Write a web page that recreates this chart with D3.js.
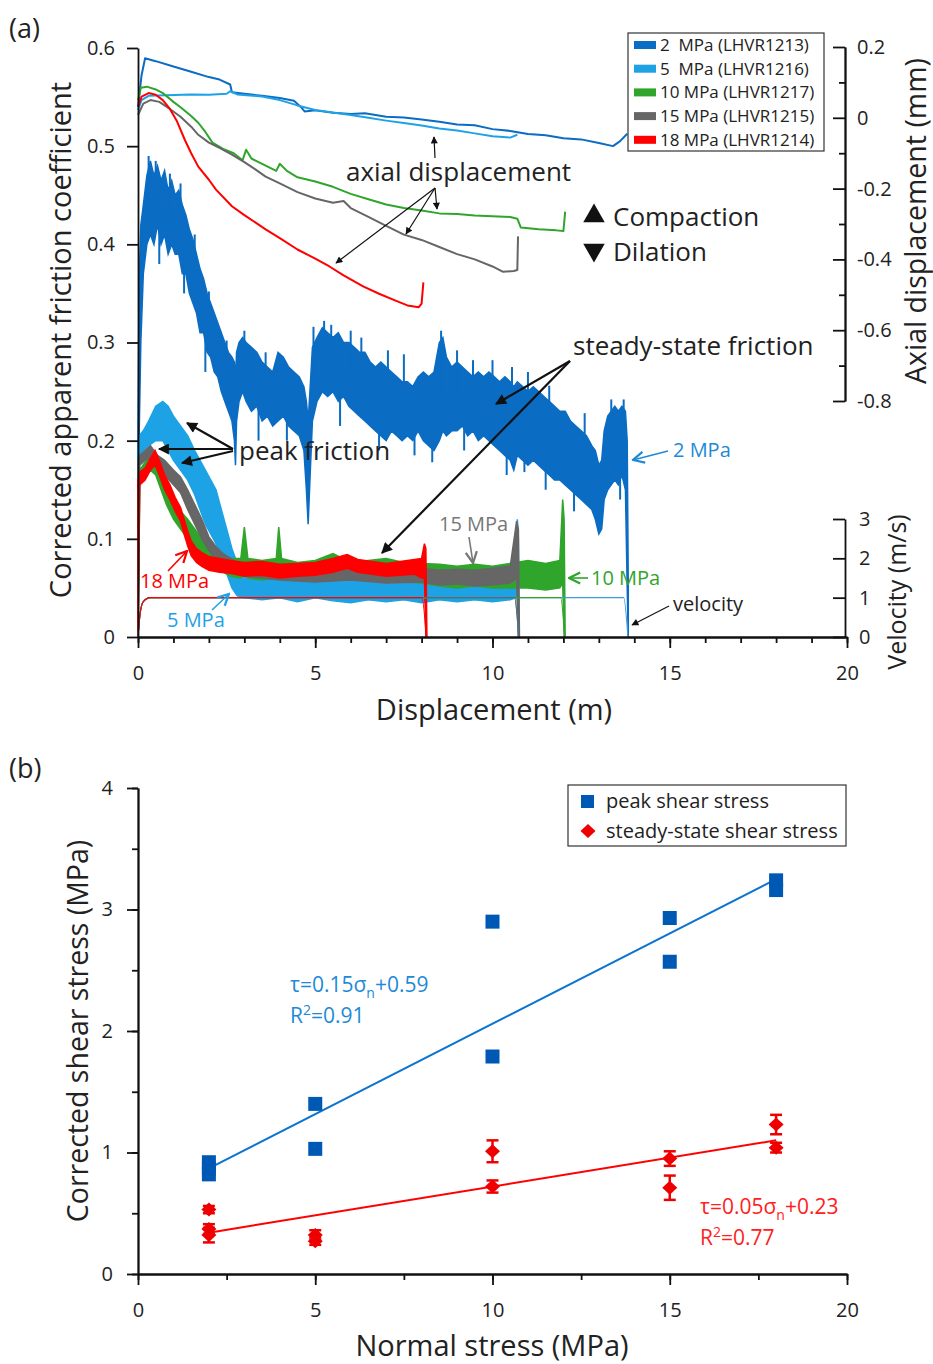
<!DOCTYPE html>
<html>
<head>
<meta charset="utf-8">
<script src="https://cdn.jsdelivr.net/npm/d3@7"></script>
<style>
  body { margin: 0; background: #fff; }
  svg text { font-family: 'Open Sans', sans-serif; fill: #222; }
  .axis path, .axis line { stroke: #111; stroke-width: 1.8; }
  .axis text { font-size: 20px; fill: #222; font-family: 'Open Sans', sans-serif; }
</style>
</head>
<body>
<svg id="chart" width="933" height="1364"></svg>
<script>
// ---------- panel (a) data ----------
const expLabels = ['2  MPa (LHVR1213)', '5  MPa (LHVR1216)', '10 MPa (LHVR1217)', '15 MPa (LHVR1215)', '18 MPa (LHVR1214)'];
const expColors = ['#0b6cc3', '#1ea2e6', '#30a52c', '#666666', '#ff0000'];
const expEnd = [13.82, 10.74, 12.04, 10.74, 8.13];

const dispTicks = [0, 5, 10, 15, 20];
const fricTicks = [0, 0.1, 0.2, 0.3, 0.4, 0.5, 0.6];
const axialTicks = [0.2, 0, -0.2, -0.4, -0.6, -0.8];
const velTicks = [0, 1, 2, 3];

// friction bands: [displacement, low, high]
const fric2 = [[0,0,0.2],[0.03,0.2,0.36],[0.08,0.3,0.42],[0.15,0.37,0.44],[0.25,0.4,0.47],[0.35,0.41,0.485],[0.45,0.4,0.47],[0.55,0.42,0.48],[0.65,0.4,0.465],[0.75,0.41,0.475],[0.85,0.39,0.455],[0.95,0.4,0.465],[1.05,0.39,0.45],[1.15,0.39,0.455],[1.25,0.37,0.44],[1.35,0.37,0.43],[1.45,0.35,0.415],[1.55,0.34,0.405],[1.65,0.33,0.39],[1.75,0.31,0.375],[1.85,0.31,0.365],[1.95,0.29,0.35],[2.05,0.285,0.34],[2.15,0.27,0.33],[2.25,0.265,0.32],[2.35,0.25,0.31],[2.45,0.24,0.3],[2.55,0.23,0.29],[2.65,0.22,0.285],[2.72,0.2,0.28],[2.75,0.175,0.26],[2.78,0.22,0.29],[2.85,0.24,0.3],[2.95,0.25,0.305],[3.05,0.24,0.3],[3.2,0.23,0.295],[3.35,0.235,0.29],[3.5,0.22,0.28],[3.65,0.225,0.275],[3.8,0.215,0.27],[3.95,0.22,0.29],[4.1,0.225,0.285],[4.25,0.215,0.275],[4.4,0.21,0.27],[4.55,0.205,0.265],[4.68,0.19,0.255],[4.75,0.15,0.24],[4.8,0.115,0.22],[4.85,0.16,0.25],[4.92,0.22,0.295],[5.05,0.24,0.305],[5.2,0.25,0.315],[5.35,0.245,0.31],[5.5,0.25,0.305],[5.65,0.24,0.31],[5.8,0.245,0.3],[5.95,0.235,0.3],[6.1,0.23,0.295],[6.25,0.225,0.29],[6.4,0.22,0.29],[6.55,0.215,0.28],[6.7,0.21,0.275],[6.85,0.205,0.28],[7.0,0.2,0.275],[7.15,0.21,0.27],[7.3,0.205,0.265],[7.45,0.2,0.26],[7.6,0.205,0.26],[7.75,0.2,0.255],[7.9,0.21,0.265],[8.05,0.2,0.27],[8.2,0.195,0.265],[8.35,0.19,0.27],[8.5,0.2,0.3],[8.6,0.21,0.305],[8.7,0.205,0.285],[8.85,0.21,0.275],[9.0,0.21,0.28],[9.15,0.215,0.275],[9.3,0.205,0.27],[9.45,0.21,0.265],[9.6,0.2,0.27],[9.75,0.205,0.265],[9.9,0.2,0.27],[10.05,0.195,0.265],[10.2,0.19,0.26],[10.35,0.185,0.265],[10.5,0.18,0.26],[10.6,0.17,0.255],[10.7,0.185,0.26],[10.85,0.18,0.255],[11.0,0.175,0.25],[11.15,0.18,0.255],[11.3,0.175,0.25],[11.45,0.17,0.245],[11.6,0.165,0.24],[11.75,0.16,0.235],[11.9,0.16,0.23],[12.05,0.155,0.23],[12.2,0.15,0.22],[12.35,0.145,0.215],[12.5,0.14,0.21],[12.65,0.135,0.205],[12.8,0.13,0.195],[12.9,0.12,0.19],[13.0,0.105,0.175],[13.08,0.11,0.18],[13.15,0.14,0.21],[13.25,0.15,0.225],[13.35,0.155,0.23],[13.45,0.16,0.235],[13.55,0.155,0.23],[13.65,0.165,0.235],[13.75,0.15,0.23],[13.8,0.05,0.2],[13.83,0,0.05]];
// single noise spikes on the 2 MPa record: [displacement, from, to]
const spikes2 = [[0.3,0.44,0.49],[0.5,0.44,0.485],[0.9,0.43,0.472],[1.2,0.42,0.462],[1.6,0.37,0.41],[2.0,0.31,0.352],[2.5,0.27,0.302],[3.0,0.27,0.312],[3.6,0.25,0.29],[4.95,0.26,0.316],[5.25,0.28,0.322],[5.45,0.28,0.318],[6.0,0.27,0.312],[6.3,0.26,0.305],[7.05,0.25,0.292],[7.5,0.23,0.288],[8.55,0.25,0.312],[9.0,0.25,0.292],[9.45,0.24,0.282],[10.0,0.24,0.282],[10.55,0.23,0.275],[11.0,0.22,0.27],[11.6,0.21,0.256],[12.6,0.18,0.228],[13.35,0.2,0.242],[13.7,0.2,0.242],[0.6,0.43,0.38],[1.3,0.4,0.35],[1.9,0.32,0.27],[3.4,0.25,0.2],[4.2,0.24,0.2],[5.7,0.27,0.215],[6.8,0.24,0.19],[7.8,0.22,0.185],[8.3,0.22,0.178],[9.2,0.23,0.19],[10.4,0.2,0.165],[10.9,0.2,0.168],[11.5,0.19,0.15],[12.3,0.17,0.128],[13.6,0.18,0.14]];
const fric5 = [[0,0,0.19],[0.03,0.18,0.205],[0.15,0.19,0.21],[0.3,0.195,0.22],[0.5,0.2,0.235],[0.7,0.2,0.24],[0.85,0.19,0.235],[1.0,0.18,0.225],[1.2,0.17,0.215],[1.4,0.16,0.205],[1.6,0.145,0.19],[1.75,0.13,0.18],[1.9,0.115,0.17],[2.05,0.105,0.16],[2.2,0.095,0.15],[2.35,0.08,0.13],[2.5,0.065,0.11],[2.65,0.05,0.09],[2.8,0.042,0.075],[3.0,0.04,0.065],[3.5,0.038,0.062],[4.0,0.04,0.063],[4.5,0.036,0.06],[5.0,0.04,0.062],[5.5,0.037,0.06],[6.0,0.035,0.062],[6.5,0.038,0.06],[7.0,0.036,0.061],[7.5,0.038,0.06],[8.0,0.035,0.06],[8.5,0.038,0.062],[9.0,0.036,0.06],[9.5,0.038,0.061],[10.0,0.036,0.06],[10.5,0.038,0.062],[10.65,0.04,0.07],[10.7,0.04,0.12],[10.73,0,0.1],[10.75,0,0]];
const fric10 = [[0,0,0.16],[0.05,0.155,0.17],[0.2,0.165,0.178],[0.35,0.17,0.185],[0.5,0.165,0.18],[0.65,0.15,0.17],[0.8,0.135,0.155],[1.0,0.12,0.14],[1.2,0.11,0.128],[1.4,0.1,0.12],[1.6,0.092,0.11],[1.8,0.085,0.1],[2.0,0.078,0.095],[2.3,0.068,0.085],[2.6,0.062,0.08],[2.9,0.06,0.08],[3.0,0.065,0.112],[3.1,0.06,0.08],[3.5,0.058,0.078],[3.9,0.06,0.08],[3.97,0.065,0.112],[4.05,0.06,0.08],[4.5,0.058,0.076],[5.0,0.06,0.078],[5.5,0.062,0.085],[6.0,0.058,0.076],[6.5,0.06,0.078],[7.0,0.058,0.08],[7.5,0.056,0.076],[8.0,0.055,0.075],[8.5,0.052,0.074],[9.0,0.05,0.072],[9.5,0.052,0.074],[10.0,0.05,0.072],[10.5,0.05,0.075],[11.0,0.05,0.078],[11.5,0.048,0.075],[11.9,0.05,0.078],[11.98,0.055,0.14],[12.02,0,0.12],[12.05,0,0]];
const fric15 = [[0,0,0.18],[0.05,0.175,0.185],[0.2,0.18,0.19],[0.35,0.182,0.195],[0.55,0.172,0.185],[0.75,0.165,0.18],[1.0,0.155,0.17],[1.2,0.147,0.163],[1.4,0.13,0.15],[1.6,0.115,0.135],[1.8,0.1,0.12],[2.0,0.088,0.102],[2.2,0.078,0.092],[2.4,0.072,0.085],[2.7,0.066,0.078],[3.0,0.062,0.075],[4.0,0.058,0.072],[5.0,0.056,0.07],[6.0,0.058,0.072],[7.0,0.055,0.07],[8.0,0.056,0.07],[8.5,0.053,0.068],[9.0,0.054,0.069],[9.5,0.052,0.068],[10.0,0.053,0.07],[10.5,0.055,0.072],[10.68,0.06,0.118],[10.73,0,0.11],[10.76,0,0]];
const fric18 = [[0,0,0.16],[0.05,0.155,0.168],[0.2,0.16,0.172],[0.35,0.17,0.182],[0.48,0.175,0.19],[0.6,0.165,0.18],[0.75,0.15,0.165],[0.9,0.14,0.155],[1.05,0.128,0.142],[1.2,0.118,0.132],[1.3,0.105,0.12],[1.4,0.093,0.108],[1.5,0.083,0.098],[1.65,0.076,0.09],[1.8,0.072,0.086],[2.0,0.068,0.082],[2.3,0.066,0.08],[2.6,0.065,0.078],[3.0,0.062,0.076],[3.5,0.063,0.077],[4.0,0.06,0.074],[4.5,0.062,0.075],[5.0,0.063,0.076],[5.5,0.066,0.08],[5.9,0.07,0.084],[6.2,0.066,0.079],[6.6,0.064,0.077],[7.0,0.062,0.075],[7.4,0.063,0.077],[7.8,0.064,0.079],[8.0,0.06,0.08],[8.08,0.06,0.095],[8.12,0,0.09],[8.15,0,0]];
const fricBands = [fric2, fric5, fric10, fric15, fric18];

// axial displacement (mm): [displacement, value]
const axial2 = [[0,0.03],[0.1,0.12],[0.2,0.168],[0.5,0.16],[1,0.145],[1.5,0.13],[2,0.115],[2.3,0.108],[2.6,0.094],[2.65,0.072],[3,0.068],[3.5,0.062],[4,0.056],[4.4,0.048],[4.6,0.03],[4.7,0.018],[5,0.021],[5.5,0.014],[6,0.011],[6.4,0.013],[7,0.003],[7.5,0.001],[8,-0.005],[8.5,-0.011],[9,-0.019],[9.5,-0.021],[10,-0.032],[10.5,-0.037],[11,-0.046],[11.5,-0.049],[12,-0.058],[12.5,-0.061],[13,-0.071],[13.4,-0.08],[13.6,-0.066],[13.8,-0.045]];
const axial5 = [[0,0.022],[0.1,0.05],[0.3,0.062],[0.8,0.064],[1.5,0.066],[2,0.065],[2.5,0.068],[2.6,0.075],[2.8,0.066],[3.5,0.06],[4,0.05],[4.5,0.035],[5,0.022],[5.5,0.015],[6,0.008],[6.5,0],[7,-0.008],[7.5,-0.015],[8,-0.022],[8.5,-0.03],[9,-0.036],[9.5,-0.044],[10,-0.052],[10.5,-0.056],[10.7,-0.048]];
const axial10 = [[0,0.05],[0.08,0.085],[0.25,0.088],[0.5,0.08],[0.7,0.07],[1,0.045],[1.2,0.03],[1.5,0.005],[1.7,-0.014],[1.9,-0.04],[2.1,-0.07],[2.4,-0.088],[2.7,-0.1],[2.95,-0.12],[3.05,-0.09],[3.2,-0.115],[3.5,-0.13],[3.9,-0.15],[4.0,-0.13],[4.2,-0.15],[4.5,-0.168],[5,-0.18],[5.5,-0.195],[6,-0.215],[6.5,-0.23],[7,-0.245],[7.5,-0.255],[8,-0.262],[8.5,-0.27],[9,-0.272],[9.5,-0.276],[10,-0.278],[10.5,-0.28],[10.7,-0.285],[10.8,-0.31],[11.3,-0.315],[11.8,-0.318],[12,-0.32],[12.05,-0.265]];
const axial15 = [[0,0.008],[0.15,0.04],[0.35,0.05],[0.6,0.045],[0.9,0.025],[1.2,0.003],[1.5,-0.025],[1.7,-0.048],[2,-0.07],[2.3,-0.085],[2.65,-0.104],[3,-0.125],[3.3,-0.145],[3.6,-0.166],[4,-0.185],[4.5,-0.21],[5,-0.228],[5.5,-0.24],[5.8,-0.235],[6,-0.255],[6.5,-0.28],[7,-0.305],[7.5,-0.33],[8,-0.345],[8.5,-0.365],[9,-0.385],[9.5,-0.4],[10,-0.42],[10.3,-0.435],[10.6,-0.433],[10.7,-0.43],[10.72,-0.335]];
const axial18 = [[0,0.03],[0.1,0.06],[0.3,0.07],[0.5,0.065],[0.7,0.05],[0.9,0.025],[1.1,-0.01],[1.32,-0.062],[1.5,-0.1],[1.7,-0.138],[2,-0.175],[2.2,-0.203],[2.65,-0.25],[3,-0.275],[3.6,-0.315],[4,-0.34],[4.5,-0.372],[5,-0.398],[5.4,-0.42],[5.8,-0.445],[6.35,-0.476],[6.8,-0.497],[7.3,-0.518],[7.6,-0.53],[7.92,-0.535],[8.0,-0.525],[8.05,-0.465]];
const axialCurves = [axial2, axial5, axial10, axial15, axial18];

// ---------- panel (b) data ----------
const stressTicks = [0, 5, 10, 15, 20];
const shearTicks = [0, 1, 2, 3, 4];
const peakSigma = [2, 2, 2, 5, 5, 10, 10, 15, 15, 18, 18];
const peakTau = [0.92, 0.87, 0.82, 1.40, 1.03, 2.90, 1.79, 2.93, 2.57, 3.24, 3.16];
const steadySigma = [2, 2, 2, 5, 5, 10, 10, 15, 15, 18, 18];
const steadyTau = [0.53, 0.37, 0.32, 0.32, 0.27, 1.01, 0.72, 0.95, 0.71, 1.23, 1.04];
const steadyErr = [0.03, 0.04, 0.06, 0.04, 0.03, 0.09, 0.05, 0.06, 0.10, 0.08, 0.04];
const fitPeak = [[2, 0.87], [18, 3.25]];
const fitSteady = [[2, 0.34], [18, 1.10]];

const svg = d3.select('#chart');
const oneDec = d => d === 0 ? '0' : d.toFixed(1);

// arrow markers
const defs = svg.append('defs');
function filledHead(id, color, w, h) {
  defs.append('marker').attr('id', id)
    .attr('viewBox', '0 0 10 10').attr('refX', 9).attr('refY', 5)
    .attr('markerWidth', w).attr('markerHeight', h).attr('markerUnits', 'userSpaceOnUse')
    .attr('orient', 'auto')
    .append('path').attr('d', 'M0,0 L10,5 L0,10 z').attr('fill', color);
}
function openHead(id, color) {
  defs.append('marker').attr('id', id)
    .attr('viewBox', '0 0 10 10').attr('refX', 9).attr('refY', 5)
    .attr('markerWidth', 14).attr('markerHeight', 16).attr('markerUnits', 'userSpaceOnUse')
    .attr('orient', 'auto')
    .append('path').attr('d', 'M1,1 L9,5 L1,9').attr('fill', 'none')
    .attr('stroke', color).attr('stroke-width', 1.6);
}
filledHead('thin', '#111', 10, 7);
filledHead('thick', '#111', 16, 11);
openHead('hBlue', '#1e8ad6');
openHead('hGray', '#777');
openHead('hGreen', '#30a52c');
openHead('hRed', '#ff0000');
openHead('hLight', '#1ea2e6');

// ================= panel (a) =================
const xA = d3.scaleLinear().domain([0, 20]).range([138, 847]);
const yFric = d3.scaleLinear().domain([0, 0.6]).range([637, 48]);
const yAxial = d3.scaleLinear().domain([-0.8, 0.2]).range([401, 47]);
const yVel = d3.scaleLinear().domain([0, 3]).range([637, 519]);

const gA = svg.append('g');

// axial displacement curves
const axialLine = d3.line().x(d => xA(d[0])).y(d => yAxial(d[1]));
axialCurves.forEach((c, i) => {
  gA.append('path').datum(c).attr('d', axialLine)
    .attr('fill', 'none').attr('stroke', expColors[i]).attr('stroke-width', 2)
    .attr('stroke-linejoin', 'round');
});

// friction bands
const band = d3.area().x(d => xA(d[0])).y0(d => yFric(d[1])).y1(d => yFric(d[2]));
fricBands.forEach((b, i) => {
  gA.append('path').datum(b).attr('d', band)
    .attr('fill', expColors[i]).attr('stroke', expColors[i]).attr('stroke-width', 1.5);
  if (i === 0) {
    gA.selectAll('.spike').data(spikes2).enter().append('line').attr('class', 'spike')
      .attr('x1', d => xA(d[0])).attr('x2', d => xA(d[0]))
      .attr('y1', d => yFric(d[1])).attr('y2', d => yFric(d[2]))
      .attr('stroke', expColors[0]).attr('stroke-width', 2);
  }
});

// velocity
const velLine = d3.line().x(d => xA(d[0])).y(d => yVel(d[1])).curve(d3.curveMonotoneX);
expEnd.forEach((e, i) => {
  const v = [[0, 0], [0.06, 0.6], [0.15, 0.9], [0.35, 1], [e - 0.12, 1], [e, 0]];
  gA.append('path').datum(v).attr('d', velLine)
    .attr('fill', 'none').attr('stroke', i === 0 ? '#3d9be0' : expColors[i]).attr('stroke-width', 1.1);
});

// axes
gA.append('g').attr('class', 'axis').attr('transform', 'translate(0,637)')
  .call(d3.axisBottom(xA).tickValues(d3.range(0, 21, 1)).tickSize(6).tickFormat('').tickSizeOuter(0));
gA.append('g').attr('class', 'axis').attr('transform', 'translate(0,637)')
  .call(d3.axisBottom(xA).tickValues(dispTicks).tickSize(11).tickPadding(18).tickSizeOuter(0));
gA.append('g').attr('class', 'axis').attr('transform', 'translate(138,0)')
  .call(d3.axisLeft(yFric).tickValues(fricTicks).tickSize(11).tickPadding(12).tickSizeOuter(0).tickFormat(oneDec));
gA.append('g').attr('class', 'axis').attr('transform', 'translate(845,0)')
  .call(d3.axisRight(yAxial).tickValues([0.1, -0.1, -0.3, -0.5, -0.7]).tickSize(-6).tickFormat('').tickSizeOuter(0));
gA.append('g').attr('class', 'axis').attr('transform', 'translate(845,0)')
  .call(d3.axisRight(yAxial).tickValues(axialTicks).tickSize(-12).tickPadding(12).tickSizeOuter(0).tickFormat(oneDec));
gA.append('g').attr('class', 'axis').attr('transform', 'translate(845,0)')
  .call(d3.axisRight(yVel).tickValues(velTicks).tickSize(-12).tickPadding(14).tickSizeOuter(0).tickFormat(d3.format('d')));

// axis titles
gA.append('text').attr('x', 494).attr('y', 720).attr('text-anchor', 'middle')
  .style('font-size', '29px').text('Displacement (m)');
gA.append('text').attr('transform', 'translate(71,340) rotate(-90)').attr('text-anchor', 'middle')
  .style('font-size', '29px').text('Corrected apparent friction coefficient');
gA.append('text').attr('transform', 'translate(926,221) rotate(-90)').attr('text-anchor', 'middle')
  .style('font-size', '28.5px').text('Axial displacement (mm)');
gA.append('text').attr('transform', 'translate(906,592) rotate(-90)').attr('text-anchor', 'middle')
  .style('font-size', '25px').text('Velocity (m/s)');
svg.append('text').attr('x', 9).attr('y', 38).style('font-size', '27px').text('(a)');

// legend (a)
const legA = gA.append('g');
legA.append('rect').attr('x', 628).attr('y', 33).attr('width', 196).attr('height', 118)
  .attr('fill', '#fff').attr('stroke', '#333').attr('stroke-width', 1.2);
expLabels.forEach((l, i) => {
  const cy = 45 + i * 23.7;
  legA.append('rect').attr('x', 634).attr('y', cy - 4).attr('width', 22).attr('height', 8).attr('fill', expColors[i]);
  legA.append('text').attr('x', 660).attr('y', cy + 6).style('font-size', '17px')
    .attr('xml:space', 'preserve').text(l);
});

// annotations (a)
function arrow(g, x1, y1, x2, y2, w, m, color) {
  g.append('line').attr('x1', x1).attr('y1', y1).attr('x2', x2).attr('y2', y2)
    .attr('stroke', color || '#111').attr('stroke-width', w).attr('marker-end', 'url(#' + m + ')');
}
gA.append('text').attr('x', 346).attr('y', 181).style('font-size', '26px').text('axial displacement');
arrow(gA, 435, 158, 434, 137, 1.2, 'thin');
arrow(gA, 435, 188, 437, 209, 1.2, 'thin');
arrow(gA, 435, 188, 406, 234, 1.2, 'thin');
arrow(gA, 435, 188, 336, 263, 1.2, 'thin');

gA.append('path').attr('d', d3.symbol(d3.symbolTriangle, 200)()).attr('transform', 'translate(594,216)').attr('fill', '#111');
gA.append('path').attr('d', d3.symbol(d3.symbolTriangle, 200)()).attr('transform', 'translate(594,250) rotate(180)').attr('fill', '#111');
gA.append('text').attr('x', 613).attr('y', 226).style('font-size', '26px').text('Compaction');
gA.append('text').attr('x', 613).attr('y', 261).style('font-size', '26px').text('Dilation');

gA.append('text').attr('x', 573).attr('y', 355).style('font-size', '26px').text('steady-state friction');
arrow(gA, 570, 361, 496, 404, 2.2, 'thick');
arrow(gA, 570, 361, 382, 553, 2.2, 'thick');

gA.append('text').attr('x', 239).attr('y', 460).style('font-size', '26px').text('peak friction');
arrow(gA, 233, 449, 187, 423, 2.2, 'thick');
arrow(gA, 233, 449, 159, 449, 2.2, 'thick');
arrow(gA, 233, 451, 182, 463, 2.2, 'thick');

gA.append('text').attr('x', 673).attr('y', 457).style('font-size', '20px').style('fill', '#1e8ad6').text('2 MPa');
arrow(gA, 668, 451, 633, 460, 1.6, 'hBlue', '#1e8ad6');
gA.append('text').attr('x', 439).attr('y', 531).style('font-size', '20px').style('fill', '#777').text('15 MPa');
arrow(gA, 469, 537, 473, 563, 1.6, 'hGray', '#777');
gA.append('text').attr('x', 591).attr('y', 585).style('font-size', '20px').style('fill', '#30a52c').text('10 MPa');
arrow(gA, 588, 578, 569, 578, 1.6, 'hGreen', '#30a52c');
gA.append('text').attr('x', 140).attr('y', 588).style('font-size', '20px').style('fill', '#ff0000').text('18 MPa');
arrow(gA, 168, 571, 187, 551, 1.6, 'hRed', '#ff0000');
gA.append('text').attr('x', 167).attr('y', 627).style('font-size', '20px').style('fill', '#1ea2e6').text('5 MPa');
arrow(gA, 212, 610, 229, 594, 1.6, 'hLight', '#1ea2e6');
gA.append('text').attr('x', 673).attr('y', 611).style('font-size', '20px').text('velocity');
arrow(gA, 669, 606, 632, 625, 1.1, 'thin');

// ================= panel (b) =================
const xB = d3.scaleLinear().domain([0, 20]).range([138, 847]);
const yB = d3.scaleLinear().domain([0, 4]).range([1274, 788]);
const gB = svg.append('g');

gB.append('g').attr('class', 'axis').attr('transform', 'translate(0,1274)')
  .call(d3.axisBottom(xB).tickValues(d3.range(0, 20.1, 2.5)).tickSize(6).tickFormat('').tickSizeOuter(0));
gB.append('g').attr('class', 'axis').attr('transform', 'translate(0,1274)')
  .call(d3.axisBottom(xB).tickValues(stressTicks).tickSize(11).tickPadding(18).tickSizeOuter(0));
gB.append('g').attr('class', 'axis').attr('transform', 'translate(138,0)')
  .call(d3.axisLeft(yB).tickValues(d3.range(0, 4.01, 0.5)).tickSize(6).tickFormat('').tickSizeOuter(0));
gB.append('g').attr('class', 'axis').attr('transform', 'translate(138,0)')
  .call(d3.axisLeft(yB).tickValues(shearTicks).tickSize(11).tickPadding(14).tickSizeOuter(0).tickFormat(d3.format('d')));

gB.append('text').attr('x', 492).attr('y', 1356).attr('text-anchor', 'middle')
  .style('font-size', '29px').text('Normal stress (MPa)');
gB.append('text').attr('transform', 'translate(88,1031) rotate(-90)').attr('text-anchor', 'middle')
  .style('font-size', '28.5px').text('Corrected shear stress (MPa)');
svg.append('text').attr('x', 9).attr('y', 778).style('font-size', '27px').text('(b)');

// fit lines
const fitLine = d3.line().x(d => xB(d[0])).y(d => yB(d[1]));
gB.append('path').datum(fitPeak).attr('d', fitLine).attr('stroke', '#0a74d0').attr('stroke-width', 2).attr('fill', 'none');
gB.append('path').datum(fitSteady).attr('d', fitLine).attr('stroke', '#ff0000').attr('stroke-width', 2).attr('fill', 'none');

// peak squares
gB.selectAll('.sq').data(peakSigma).enter().append('rect').attr('class', 'sq')
  .attr('x', d => xB(d) - 7).attr('y', (d, i) => yB(peakTau[i]) - 7)
  .attr('width', 14).attr('height', 14).attr('fill', '#0058b5');

// steady diamonds with error bars
const diamond = 'M0,-7 L7.5,0 L0,7 L-7.5,0 Z';
steadySigma.forEach((s, i) => {
  const cx = xB(s), top = yB(steadyTau[i] + steadyErr[i]), bot = yB(steadyTau[i] - steadyErr[i]);
  gB.append('line').attr('x1', cx).attr('x2', cx).attr('y1', top).attr('y2', bot).attr('stroke', '#ee0000').attr('stroke-width', 2.5);
  gB.append('line').attr('x1', cx - 6).attr('x2', cx + 6).attr('y1', top).attr('y2', top).attr('stroke', '#ee0000').attr('stroke-width', 2.5);
  gB.append('line').attr('x1', cx - 6).attr('x2', cx + 6).attr('y1', bot).attr('y2', bot).attr('stroke', '#ee0000').attr('stroke-width', 2.5);
  gB.append('path').attr('d', diamond).attr('transform', `translate(${cx},${yB(steadyTau[i])})`).attr('fill', '#ee0000');
});

// equations
function equation(x, y, color, slope, icpt, r2) {
  const t = gB.append('text').attr('x', x).attr('y', y).style('font-size', '21px').style('fill', color);
  t.append('tspan').text('τ=' + slope + 'σ');
  t.append('tspan').attr('dy', 6).style('font-size', '14px').text('n');
  t.append('tspan').attr('dy', -6).text('+' + icpt);
  const r = gB.append('text').attr('x', x).attr('y', y + 31).style('font-size', '21px').style('fill', color);
  r.append('tspan').text('R');
  r.append('tspan').attr('dy', -8).style('font-size', '14px').text('2');
  r.append('tspan').attr('dy', 8).text('=' + r2);
}
equation(290, 992, '#1e8ad6', '0.15', '0.59', '0.91');
equation(700, 1214, '#ff2020', '0.05', '0.23', '0.77');

// legend (b)
const legB = gB.append('g');
legB.append('rect').attr('x', 568).attr('y', 785).attr('width', 278).attr('height', 61)
  .attr('fill', '#fff').attr('stroke', '#333').attr('stroke-width', 1.2);
legB.append('rect').attr('x', 581).attr('y', 795).attr('width', 13).attr('height', 13).attr('fill', '#0058b5');
legB.append('path').attr('d', diamond).attr('transform', 'translate(588,831)').attr('fill', '#ee0000');
legB.append('text').attr('x', 606).attr('y', 808).style('font-size', '20px').text('peak shear stress');
legB.append('text').attr('x', 606).attr('y', 838).style('font-size', '20px').text('steady-state shear stress');
</script>
</body>
</html>
